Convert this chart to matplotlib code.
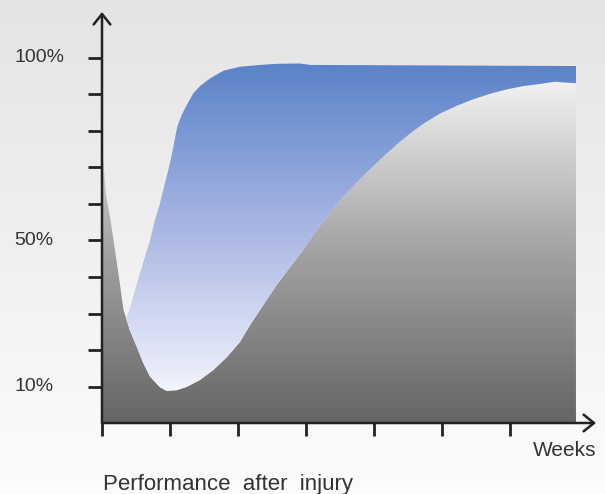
import numpy as np
import matplotlib.pyplot as plt
from matplotlib.colors import LinearSegmentedColormap
from matplotlib.patches import Polygon

plt.rcParams['font.family'] = ['Liberation Sans', 'DejaVu Sans']

# lower curve: baseline performance (weeks, %)
weeks_low = [0.007, 0.059, 0.118, 0.191, 0.265, 0.316, 0.412, 0.510, 0.607,
             0.706, 0.853, 0.951, 1.099, 1.246, 1.441, 1.637, 1.834, 2.029,
             2.176, 2.372, 2.569, 2.765, 2.960, 3.157, 3.353, 3.549, 3.745,
             3.941, 4.137, 4.334, 4.529, 4.725, 4.971, 5.216, 5.460, 5.706,
             5.951, 6.196, 6.441, 6.662, 6.784, 6.970]
perf_low = [74.8, 62.5, 56.4, 47.4, 37.8, 31.0, 25.3, 20.9, 16.4,
            12.7, 9.8, 8.8, 9.0, 9.9, 11.8, 14.5, 18.0, 22.2,
            26.8, 32.3, 37.8, 42.7, 47.4, 52.9, 57.5, 62.0, 65.9,
            69.5, 73.0, 76.3, 79.3, 82.0, 84.8, 86.9, 88.7, 90.2,
            91.4, 92.3, 92.9, 93.5, 93.3, 93.1]

# upper curve: performance with treatment
weeks_high = [0.353, 0.412, 0.485, 0.559, 0.632, 0.706, 0.779, 0.853, 0.926,
              1.000, 1.059, 1.107, 1.172, 1.246, 1.343, 1.441, 1.588, 1.784,
              2.029, 2.324, 2.569, 2.912, 3.060, 6.970]
perf_high = [28.6, 31.4, 36.4, 41.0, 45.6, 50.1, 55.6, 60.2, 65.7,
             71.2, 76.6, 81.2, 84.4, 87.1, 90.3, 92.3, 94.4, 96.5,
             97.6, 98.1, 98.4, 98.5, 98.1, 97.8]

x_ticks = [0, 1, 2, 3, 4, 5, 6]
y_ticks = [10, 20, 30, 40, 50, 60, 70, 80, 90, 100]
y_labels = {10: '10%', 50: '50%', 100: '100%'}

W, H = 605, 494
fig = plt.figure(figsize=(W / 100, H / 100), dpi=100)

# soft grey page background
bg = fig.add_axes([0, 0, 1, 1])
bg_cmap = LinearSegmentedColormap.from_list('bg', ['#fcfcfc', '#e4e4e4'])
bg.imshow(np.linspace(0, 1, 256).reshape(-1, 1), cmap=bg_cmap, aspect='auto',
          origin='lower', extent=[0, 1, 0, 1])
bg.set_xlim(0, 1)
bg.set_ylim(0, 1)
bg.axis('off')

px_w, px_h = 68.0, 3.65   # pixels per week, pixels per percent
x0, y0 = 102, 423
ax = fig.add_axes([x0 / W, (H - y0) / H, (596 - x0) / W, (y0 - 12) / H])
ax.patch.set_alpha(0)
for s in ax.spines.values():
    s.set_visible(False)

xmax = weeks_low[-1]

# grey area under the lower curve
grey_pts = list(zip(weeks_low, perf_low)) + [(weeks_low[-1], 0), (weeks_low[0], 0)]
grey_poly = Polygon(grey_pts, closed=True, facecolor='none', edgecolor='none')
ax.add_patch(grey_poly)
grey_cmap = LinearSegmentedColormap.from_list('g', ['#656565', '#a3a3a3', '#f4f4f4'])
im = ax.imshow(np.linspace(0, 1, 256).reshape(-1, 1), cmap=grey_cmap, aspect='auto',
               origin='lower', extent=[0, xmax, 0, 95], interpolation='bilinear')
im.set_clip_path(grey_poly)

# blue area between the curves
start = weeks_high[0]
low_part = [(w, p) for w, p in zip(weeks_low, perf_low) if w > start]
blue_pts = list(zip(weeks_high, perf_high)) + low_part[::-1]
blue_poly = Polygon(blue_pts, closed=True, facecolor='none', edgecolor='none')
ax.add_patch(blue_poly)
blue_cmap = LinearSegmentedColormap.from_list('b', ['#f3f5fd', '#a9b6e3', '#5882c8'])
im2 = ax.imshow(np.linspace(0, 1, 256).reshape(-1, 1), cmap=blue_cmap, aspect='auto',
                origin='lower', extent=[0, xmax, 8, 99], interpolation='bilinear')
im2.set_clip_path(blue_poly)

ax.set_xlim(0, (596 - x0) / px_w)
ax.set_ylim(0, (y0 - 12) / px_h)

# axes with open arrow heads
arrow = dict(arrowstyle='->,head_length=0.75,head_width=0.6', lw=1.8,
             color='#222222', shrinkA=0, shrinkB=0)
ax.annotate('', xy=((596 - x0) / px_w, 0), xytext=(0, 0), arrowprops=arrow,
            annotation_clip=False)
ax.annotate('', xy=(0, (y0 - 12) / px_h), xytext=(0, 0), arrowprops=arrow,
            annotation_clip=False)

ax.set_xticks(x_ticks)
ax.set_yticks(y_ticks)
ax.set_xticklabels([])
ax.set_yticklabels([])
ax.tick_params(axis='x', direction='out', length=9, width=2, color='#222222')
ax.tick_params(axis='y', direction='out', length=10, width=2, color='#222222')

for v, lab in y_labels.items():
    fig.text(14 / W, (H - (y0 - v * px_h)) / H, lab, ha='left', va='center',
             fontsize=14, color='#333333')

fig.text(533 / W, (H - 450) / H, 'Weeks', ha='left', va='center',
         fontsize=15, color='#333333')
fig.text(103 / W, (H - 490) / H, 'Performance  after  injury', ha='left',
         va='baseline', fontsize=16, color='#333333')

fig.savefig('out.png', dpi=100)
